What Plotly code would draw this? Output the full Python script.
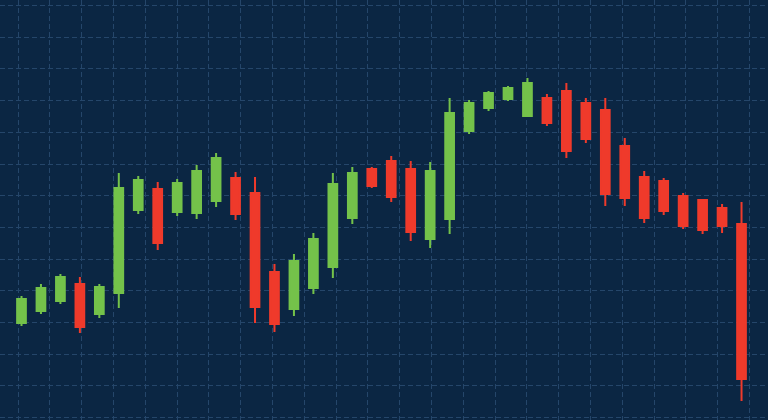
import plotly.graph_objects as go

# Candle index (0..37) and OHLC values (arbitrary price units)
idx = list(range(38))
open_ = [97, 109, 119, 136, 106, 127, 210, 231, 208, 207, 219, 242, 227, 148, 111, 132, 153, 202, 251, 259,
         251, 181, 201, 289, 312, 321, 304, 322, 329, 317, 310, 274, 243, 239, 224, 220, 212, 196]
high = [124, 136, 146, 143, 136, 247, 244, 238, 241, 255, 267, 248, 243, 156, 166, 187, 247, 253, 253, 264,
        259, 258, 322, 320, 329, 334, 342, 326, 337, 322, 322, 282, 249, 242, 227, 221, 216, 218]
low = [94, 106, 116, 87, 102, 112, 206, 170, 204, 201, 213, 200, 97, 88, 104, 126, 142, 196, 232, 218,
       179, 172, 186, 286, 309, 319, 303, 294, 262, 277, 214, 214, 197, 205, 191, 186, 187, 19]
close = [121, 132, 143, 93, 133, 232, 240, 177, 237, 249, 262, 206, 113, 96, 159, 181, 236, 247, 234, 223,
         188, 249, 307, 317, 327, 332, 337, 297, 269, 281, 226, 222, 202, 209, 194, 190, 194, 41]

BG = "#0b2643"
GRID = "#25466a"
GREEN = "#74c24a"
RED = "#ef3a2b"

fig = go.Figure(go.Candlestick(
    x=idx, open=open_, high=high, low=low, close=close,
    increasing=dict(line=dict(color=GREEN, width=2), fillcolor=GREEN),
    decreasing=dict(line=dict(color=RED, width=2), fillcolor=RED),
    whiskerwidth=0,
    showlegend=False,
))

step = 19.46
fig.update_layout(
    width=768, height=420,
    margin=dict(l=0, r=0, t=0, b=0),
    paper_bgcolor=BG, plot_bgcolor=BG,
    boxgap=0.36,
    xaxis=dict(
        range=[-21.5 / step, (768 - 21.5) / step],
        rangeslider=dict(visible=False),
        showticklabels=False, ticks="", zeroline=False, showline=False,
        showgrid=True, gridcolor=GRID, griddash="5px,3px", gridwidth=1,
        tickmode="linear", tick0=(18 - 21.5) / step, dtick=31.8 / step,
    ),
    yaxis=dict(
        range=[0, 420],
        showticklabels=False, ticks="", zeroline=False, showline=False,
        showgrid=True, gridcolor=GRID, griddash="5px,3px", gridwidth=1,
        tickmode="linear", tick0=2.4, dtick=31.7,
    ),
    hovermode=False,
)

fig.write_html(
    "out.html",
    config={"displayModeBar": False},
    post_script="document.body.style.margin='0';document.body.style.background='" + BG + "';",
)
